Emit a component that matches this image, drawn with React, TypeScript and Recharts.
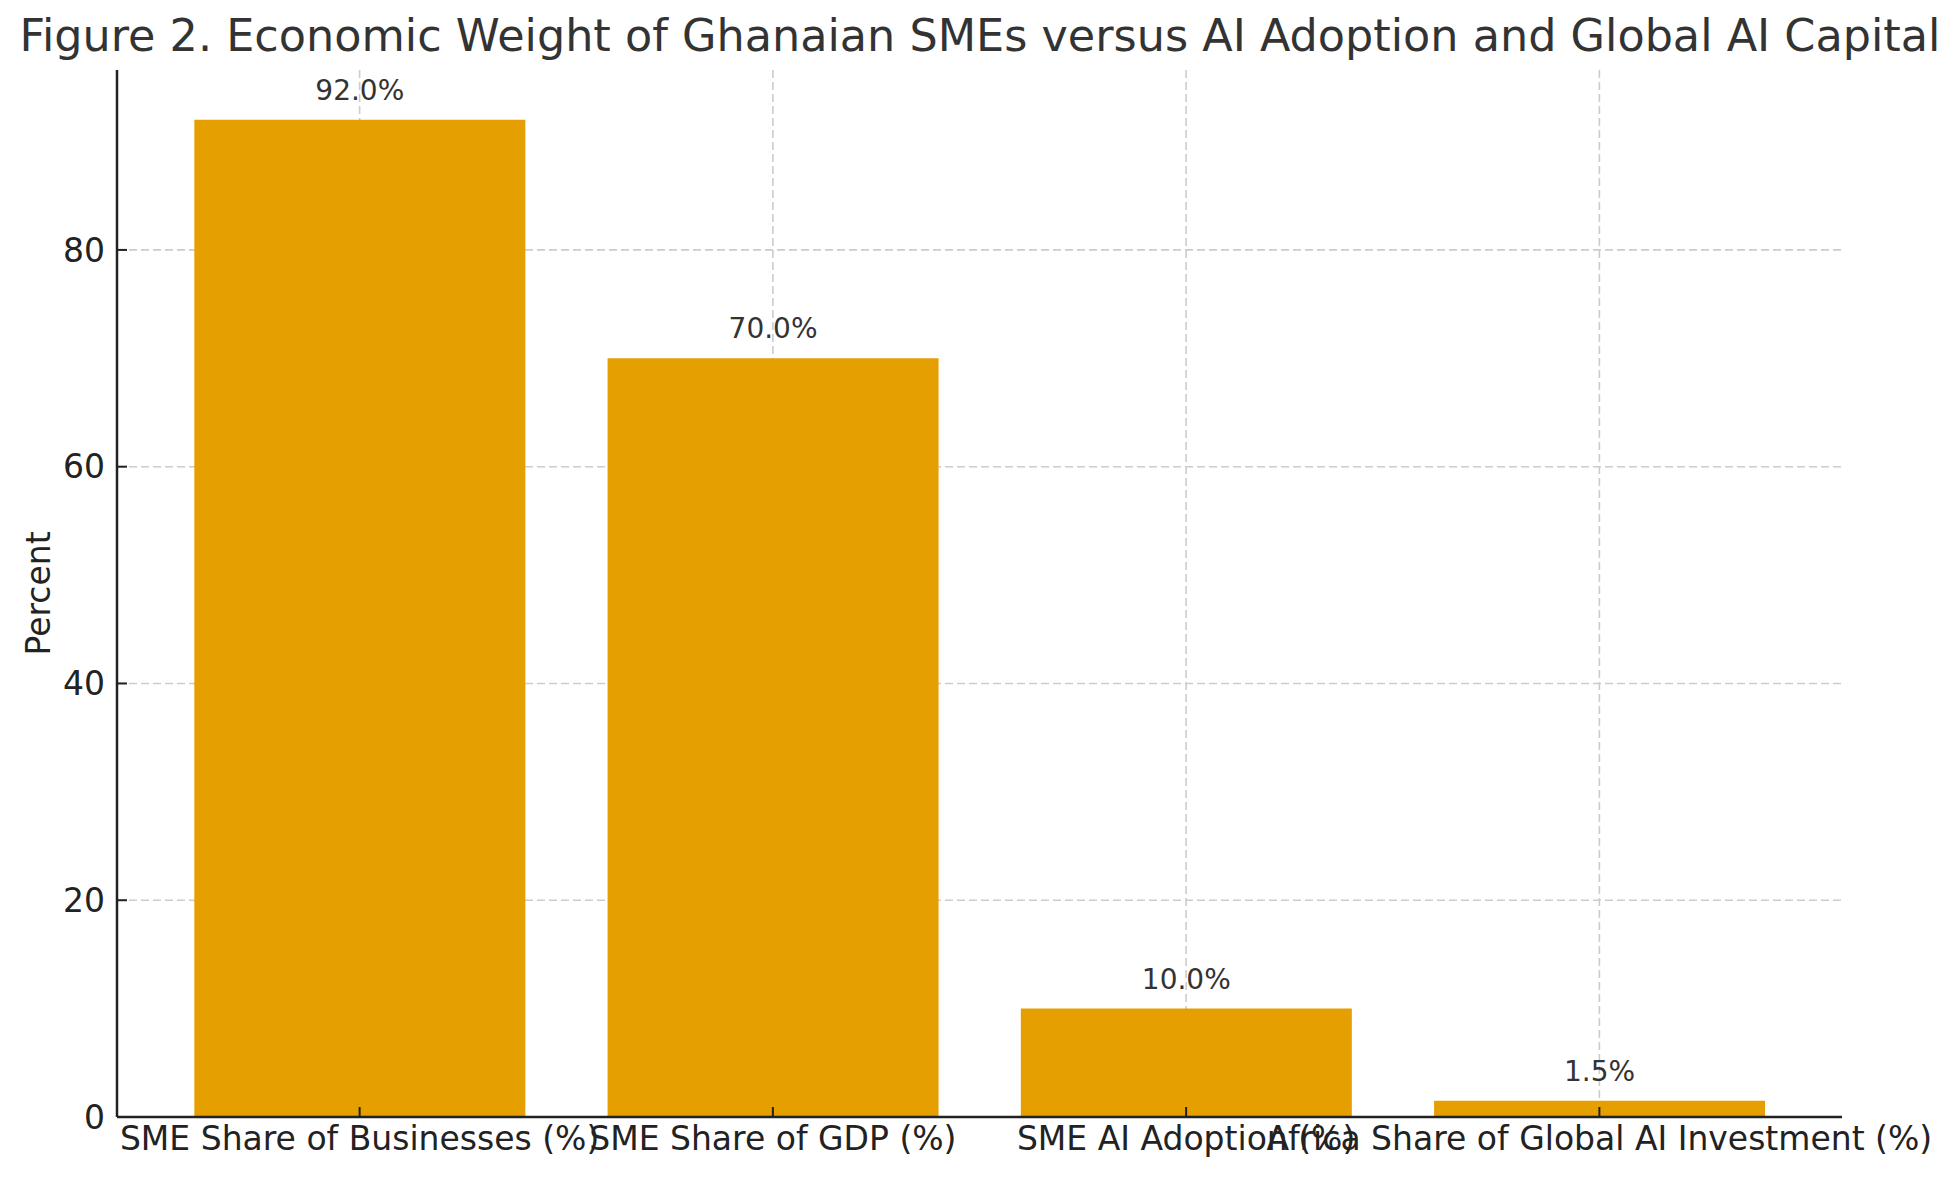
import { BarChart, Bar, XAxis, YAxis, CartesianGrid, LabelList } from 'recharts'

const categories = [
  'SME Share of Businesses (%)',
  'SME Share of GDP (%)',
  'SME AI Adoption (%)',
  'Africa Share of Global AI Investment (%)',
]
const percents = [92.0, 70.0, 10.0, 1.5]
const yTicks = [0, 20, 40, 60, 80]

const FONT = '"DejaVu Sans", sans-serif'

export default function App() {
  const data = categories.map((name, i) => ({ name, value: percents[i] }))

  return (
    <div style={{ position: 'absolute', left: 0, top: 0, width: 1959, height: 1180, background: '#fff', fontFamily: FONT, overflow: 'hidden' }}>
      {/* title centred over the plot area (x 117..1842) */}
      <div
        style={{
          position: 'absolute',
          left: -20,
          width: 2000,
          top: 6,
          textAlign: 'center',
          fontSize: 44.5,
          lineHeight: '60px',
          color: '#333333',
          whiteSpace: 'nowrap',
        }}
      >
        Figure 2. Economic Weight of Ghanaian SMEs versus AI Adoption and Global AI Capital
      </div>
      <BarChart
        width={1959}
        height={1180}
        data={data}
        margin={{ top: 70, right: 117, bottom: 0, left: 0 }}
        barCategoryGap="10%"
      >
        <CartesianGrid stroke="#cccccc" strokeWidth={1.6} strokeDasharray="8 4" syncWithTicks />
        <XAxis
          dataKey="name"
          height={63}
          interval={0}
          padding={{ left: 36, right: 36 }}
          tickSize={-10}
          tickMargin={20}
          axisLine={{ stroke: '#222', strokeWidth: 2.5 }}
          tickLine={{ stroke: '#222', strokeWidth: 2 }}
          tick={{ fontSize: 33, fill: '#222', fontFamily: FONT }}
        />
        <YAxis
          width={117}
          domain={[0, 96.6]}
          ticks={yTicks}
          tickSize={-10}
          tickMargin={22}
          axisLine={{ stroke: '#222', strokeWidth: 2.5 }}
          tickLine={{ stroke: '#222', strokeWidth: 2 }}
          tick={{ fontSize: 33, fill: '#222', fontFamily: FONT }}
          label={{
            value: 'Percent',
            angle: -90,
            position: 'insideLeft',
            offset: 38,
            style: { fontSize: 33, fill: '#222', fontFamily: FONT, textAnchor: 'middle' },
          }}
        />
        <Bar dataKey="value" fill="#E69F00" isAnimationActive={false}>
          <LabelList
            dataKey="value"
            position="top"
            offset={20}
            formatter={(v: number) => `${v.toFixed(1)}%`}
            style={{ fontSize: 28, fill: '#333', fontFamily: FONT }}
          />
        </Bar>
      </BarChart>
    </div>
  )
}
